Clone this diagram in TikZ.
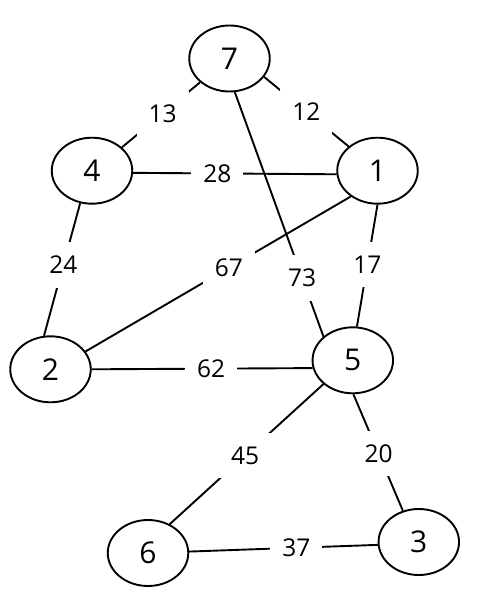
\documentclass[tikz,border=0pt]{standalone}
\usepackage{fontspec}
\setmainfont{Open Sans}
\usetikzlibrary{shapes.geometric}
\begin{document}
\begin{tikzpicture}[x=1pt,y=-1pt,
  vert/.style={ellipse,draw,line width=1.9pt,minimum width=80.5pt,minimum height=66pt,inner sep=0pt,font=\fontsize{30}{36}\selectfont},
  wlabel/.style={fill=white,inner xsep=12pt,inner ysep=13.8pt,font=\fontsize{24.5}{28}\selectfont},
  edgeline/.style={line width=1.9pt}]
\useasboundingbox (0,0) rectangle (492,612);
\node[vert] (n7) at (229.5,58.5) {7};
\node[vert] (n4) at (92,170.7) {4};
\node[vert] (n1) at (377.5,170.7) {1};
\node[vert] (n2) at (50.5,369.3) {2};
\node[vert] (n5) at (352.8,360.3) {5};
\node[vert] (n6) at (148,553) {6};
\node[vert] (n3) at (418.8,542) {3};
\draw[edgeline] (n7.219) -- node[wlabel,pos=0.48] {13} (n4.38);
\draw[edgeline] (n7.332) -- node[wlabel,pos=0.5] {12} (n1.140);
\draw[edgeline] (n4.357) -- node[wlabel,pos=0.414] {28} (n1.185);
\draw[edgeline] (n4.250) -- node[wlabel,pos=0.466] {24} (n2.101);
\draw[edgeline] (n1.224) -- node[wlabel,pos=0.46] {67} (n2.27);
\draw[edgeline] (n7.279) -- node[wlabel,pos=0.76] {73} (n5.141);
\draw[edgeline] (n1.270) -- node[wlabel,pos=0.49] {17} (n5.83);
\draw[edgeline] (n2.0) -- node[wlabel,pos=0.54] {62} (n5.191);
\draw[edgeline] (n5.219) -- node[wlabel,pos=0.51] {45} (n6.53);
\draw[edgeline] (n5.271) -- node[wlabel,pos=0.51] {20} (n3.117);
\draw[edgeline] (n6.2) -- node[wlabel,pos=0.568] {37} (n3.184);
\end{tikzpicture}
\end{document}
